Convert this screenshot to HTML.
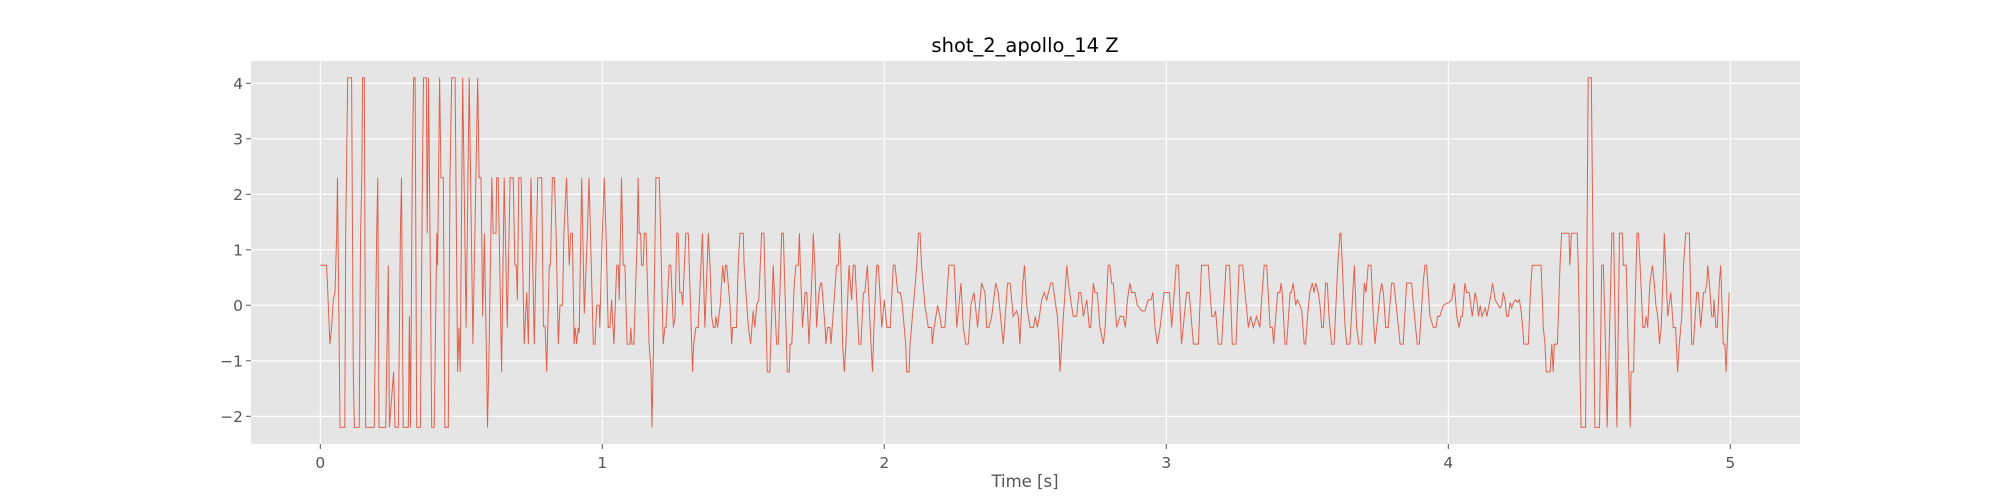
<!DOCTYPE html>
<html><head><meta charset="utf-8"><style>
html,body{margin:0;padding:0;background:#fff;}
svg{display:block;font-family:"DejaVu Sans","Liberation Sans",sans-serif;}
</style></head><body>
<svg id="chart" width="2000" height="500" viewBox="0 0 2000 500" xmlns="http://www.w3.org/2000/svg">
<rect x="0" y="0" width="2000" height="500" fill="#fff"/>
<rect x="251" y="61" width="1549" height="383" fill="#e5e5e5"/>
<g id="grid"></g>
<g id="series"></g>
<g id="ticks"></g>
<text x="1025" y="52" text-anchor="middle" font-size="19.5" fill="#000">shot_2_apollo_14 Z</text>
<text x="1025" y="487" text-anchor="middle" font-size="16.5" fill="#555">Time [s]</text>
</svg>
<script>
const xTicks=[0,1,2,3,4,5];
const yTicks=[-2,-1,0,1,2,3,4];
const yTickLabels=["\u22122","\u22121","0","1","2","3","4"];
const times=[0,.022,.025,.034,.040,.046,.052,.058,.061,.070,.087,.090,.097,.111,.117,.121,.138,.143,.147,.150,.156,.161,.191,.200,.204,.208,.232,.241,.245,.260,.265,.277,.284,.288,.294,.312,.316,.320,.326,.331,.336,.342,.355,.362,.366,.376,.379,.384,.395,.404,.413,.416,.423,.428,.436,.442,.454,.460,.466,.478,.487,.492,.496,.505,.517,.528,.541,.558,.563,.570,.576,.582,.590,.593,.597,.608,.613,.623,.625,.631,.643,.652,.663,.673,.684,.690,.695,.699,.704,.712,.723,.732,.738,.747,.759,.771,.785,.791,.797,.803,.812,.816,.823,.830,
.836,.844,.850,.859,.864,.873,.879,.883,.888,.894,.900,.904,.909,.915,.918,.927,.936,.947,.953,.968,.974,.980,.989,.991,1.000,1.007,1.013,1.021,1.027,1.033,1.041,1.051,1.057,1.060,1.068,1.074,1.080,1.088,1.098,1.101,1.105,1.112,1.124,1.127,1.131,1.136,1.139,1.145,1.149,1.155,1.166,1.173,1.176,1.180,1.190,1.202,1.216,1.222,1.226,1.234,1.237,1.243,1.252,1.258,1.264,1.269,1.275,1.281,1.285,1.291,1.296,1.305,1.317,1.320,1.324,1.332,1.340,1.355,1.364,1.376,1.382,1.388,1.394,1.400,1.403,1.409,1.418,1.427,1.433,1.437,1.441,1.453,1.459,1.462,1.476,1.482,1.488,1.500,1.503,1.518,1.526,1.535,1.541,1.547,1.555,1.565,1.573,1.585,1.594,1.606,1.618,1.624,1.636,1.642,1.656,1.663,
1.666,1.672,1.681,1.687,1.695,1.699,1.702,1.710,1.719,1.725,1.733,1.745,1.748,1.754,1.760,1.768,1.774,1.778,1.790,1.793,1.799,1.807,1.811,1.831,1.837,1.841,1.846,1.852,1.858,1.864,1.875,1.884,1.890,1.896,1.910,1.917,1.926,1.931,1.940,1.953,1.958,1.963,1.973,1.979,1.991,2.000,2.009,2.021,2.032,2.038,2.048,2.056,2.062,2.076,2.079,2.088,2.091,2.107,2.115,2.121,2.127,2.132,2.144,2.156,2.168,2.170,2.177,2.189,2.197,2.203,2.215,2.229,2.248,2.257,2.272,2.280,2.289,2.298,2.307,2.318,2.331,2.345,2.357,2.363,2.371,2.381,2.395,2.404,2.416,2.422,2.437,2.446,2.457,2.469,2.475,2.481,2.491,2.497,
2.505,2.517,2.529,2.535,2.543,2.550,2.558,2.567,2.576,2.582,2.590,2.597,2.605,2.614,2.620,2.623,2.629,2.635,2.647,2.653,2.661,2.670,2.682,2.690,2.697,2.706,2.718,2.727,2.732,2.741,2.747,2.755,2.765,2.777,2.783,2.794,2.800,2.806,2.812,2.824,2.836,2.847,2.855,2.862,2.871,2.877,2.889,2.897,2.913,2.924,2.936,2.946,2.952,2.960,2.968,2.978,2.992,3.011,3.019,3.035,3.043,3.054,3.060,3.072,3.081,3.096,3.114,3.125,3.149,3.161,3.169,3.175,3.184,3.196,3.212,3.224,3.234,3.247,3.258,3.271,3.279,3.291,3.299,3.309,3.320,3.332,
3.338,3.347,3.356,3.368,3.376,3.381,3.385,3.395,3.403,3.407,3.411,3.421,3.427,3.439,3.444,3.450,3.459,3.465,3.474,3.480,3.489,3.494,3.501,3.509,3.518,3.524,3.530,3.539,3.545,3.551,3.557,3.565,3.571,3.577,3.586,3.595,3.608,3.616,3.619,3.624,3.634,3.640,3.651,3.660,3.667,3.675,3.683,3.693,3.702,3.708,3.716,3.726,3.734,3.740,3.746,3.758,3.764,3.770,3.778,3.787,3.799,3.807,3.819,3.829,3.840,3.852,3.870,3.880,3.890,3.897,3.911,3.917,3.923,3.935,3.947,3.956,3.962,3.970,3.982,4.002,4.012,4.021,4.030,4.038,4.045,4.050,4.059,4.065,4.074,4.085,4.095,4.101,4.107,4.113,4.119,4.131,4.137,4.148,4.157,4.166,
4.183,4.189,4.195,4.201,4.207,4.213,4.219,4.225,4.231,4.239,4.245,4.252,4.258,4.264,4.268,4.284,4.290,4.293,4.298,4.329,4.337,4.343,4.347,4.361,4.367,4.372,4.376,4.387,4.396,4.402,4.428,4.431,4.437,4.457,4.461,4.467,4.471,4.487,4.496,4.507,4.520,4.536,4.544,4.550,4.560,4.563,4.568,4.580,4.586,4.598,4.607,4.617,4.621,4.631,4.640,4.645,4.648,4.657,4.659,4.669,4.674,4.680,4.690,4.696,4.702,4.707,4.715,4.724,4.730,4.736,4.743,4.749,4.755,4.763,4.766,4.771,4.778,4.789,4.798,4.806,4.813,4.819,4.828,4.834,4.842,4.855,4.863,4.869,4.873,4.881,4.887,4.895,4.905,4.911,4.917,4.920,4.926,4.934,4.940,4.942,4.949,4.954,4.961,4.966,4.975,4.981,4.985,4.989,4.996];
const values=[.72,.72,.4,-.7,-.4,.1,.23,1.3,2.3,-2.2,-2.2,1.3,4.1,4.1,-1.2,-2.2,-2.2,1.3,2.3,4.1,4.1,-2.2,-2.2,1.3,2.3,-2.2,-2.2,.72,-2.2,-1.2,-2.2,-2.2,1.3,2.3,-2.2,-2.2,-.2,-2.2,2.3,4.1,4.1,-2.2,-2.2,2.3,4.1,4.1,1.3,4.1,-2.2,-2.2,1.3,.72,4.1,2.3,2.3,-2.2,-2.2,2.3,4.1,4.1,-1.2,-.4,-1.2,4.1,-.4,4.1,-.7,4.1,2.3,2.3,-.2,1.3,-1.2,-2.2,-1.2,2.3,1.3,1.3,2.3,2.3,-1.2,2.3,-.4,2.3,2.3,.72,.72,.1,2.3,2.3,-.7,.23,-.7,2.3,-.7,2.3,2.3,-.38,-.38,-1.2,.72,.72,2.3,2.3,
1.3,-.7,0,0,1.3,2.3,1.3,.72,1.3,1.3,-.7,-.4,-.7,-.4,-.5,2.3,-.15,1.3,2.3,-.7,-.7,0,0,-.4,1.3,2.3,1.3,-.4,-.4,.1,-.7,.72,.72,.1,2.3,.72,.72,-.7,-.7,-.4,-.7,-.7,1.3,2.3,1.3,1.3,.72,.72,1.3,1.3,-.7,-1.2,-2.2,-1.2,2.3,2.3,-.7,-.4,-.4,.4,.72,.72,-.4,-.2,1.3,1.3,.23,.23,0,.72,1.3,1.3,-.7,-1.2,-.7,-.4,-.4,1.3,-.4,1.3,.72,-.2,-.4,-.4,-.2,-.4,0,.72,.4,.72,.72,0,-.7,-.4,-.4,.72,1.3,1.3,.72,-.4,-.7,-.1,-.4,0,.1,1.3,1.3,-1.2,-1.2,.72,-.7,-.7,1.3,1.3,-1.2,-1.2,
-.7,-.7,.4,.72,.72,1.3,.72,-.4,.23,.23,-.7,.72,1.3,.72,-.4,.23,.4,.4,-.4,-.7,-.4,-.4,-.7,.72,.72,1.3,.72,-.7,-1.2,-.7,.72,.1,.72,.72,-.7,-.7,.23,.23,.72,-.7,-1.2,-.4,.72,.72,-.4,.1,-.4,-.4,.72,.72,.23,.23,.1,-.7,-1.2,-1.2,-.7,.23,.72,1.3,1.3,.72,0,-.4,-.4,-.7,-.4,0,-.2,-.4,-.4,.72,.72,-.4,.4,-.4,-.7,-.7,0,.23,-.4,.4,.23,-.4,-.4,-.2,.4,.23,-.4,-.7,.4,.4,-.2,-.1,-.2,-.7,.4,.72,
0,-.4,-.4,-.2,-.4,-.2,.1,.23,.1,.23,.4,.4,.1,-.2,-.7,-1.2,-.7,-.2,.72,.4,.1,-.2,-.2,.23,.23,-.2,.1,-.4,-.4,.4,.23,.23,-.4,-.7,-.4,.72,.72,.4,.4,-.4,-.2,-.2,-.4,.1,.4,.23,.23,0,-.1,-.1,.1,.1,.23,-.4,-.7,-.4,.23,.23,-.4,.72,.72,-.7,-.4,.23,.23,-.7,-.7,.72,.72,-.2,-.2,-.1,-.7,-.7,.72,.72,-.7,-.7,.72,.72,.23,-.4,-.2,-.4,-.2,-.4,
.1,.72,.72,-.4,-.4,-.7,-.4,.23,.23,.4,.23,-.7,-.7,.23,.23,.4,0,.1,0,-.1,-.7,-.7,-.2,.23,.4,.23,.4,.23,0,-.4,-.4,.4,.4,-.2,-.7,-.7,.72,1.3,1.3,.72,-.4,-.7,-.7,.1,.72,-.4,-.7,-.7,.4,.23,.72,.72,-.2,-.7,-.4,.23,.4,.23,-.4,-.4,.4,.4,-.2,-.7,-.7,.4,.4,-.2,-.7,-.7,.4,.72,.72,-.2,-.4,-.4,-.2,-.2,0,.05,.1,.4,-.2,-.4,-.2,-.2,.4,.23,.23,-.2,.23,.1,-.2,0,-.2,-.05,-.2,.1,.4,.1,
-.05,0,.23,.1,-.2,-.2,.05,-.05,.05,.1,.05,.1,-.1,-.4,-.7,-.7,.1,.4,.72,.72,-.4,-.7,-1.2,-1.2,-.7,-1.2,-.7,-.7,.72,1.3,1.3,.72,1.3,1.3,.72,-1.2,-2.2,-2.2,4.1,4.1,-2.2,-2.2,.72,.72,-1.2,-2.2,-1.2,1.3,1.3,-2.2,1.3,1.3,.72,.72,-1.2,-2.2,-1.2,-1.2,-.7,1.3,1.3,.72,-.4,-.4,-.2,-.4,.4,.72,.4,0,-.2,-.7,-.4,.72,1.3,.72,-.2,.23,-.4,-.4,-1.2,-.7,-.2,.72,1.3,1.3,-.7,-.7,-.4,.23,.23,-.4,.23,.23,.4,.72,.4,-.2,-.2,.1,-.4,-.4,.4,.72,-.7,-.7,-1.2,-.7,.23];
const NS="http://www.w3.org/2000/svg";
const xScale=t=>320.3+t*282;
const yScale=v=>305.3-v*55.5;
const grid=document.getElementById('grid'),ticks=document.getElementById('ticks'),series=document.getElementById('series');
xTicks.forEach(t=>{
  const l=document.createElementNS(NS,'line');
  
  
  l.setAttribute('x1',xScale(t));l.setAttribute('x2',xScale(t));l.setAttribute('y1',61);l.setAttribute('y2',444);
  l.setAttribute('stroke','#fff');l.setAttribute('stroke-width','1.1');grid.appendChild(l);
  const k=document.createElementNS(NS,'line');
  
  
  k.setAttribute('x1',xScale(t));k.setAttribute('x2',xScale(t));k.setAttribute('y1',444);k.setAttribute('y2',449);
  k.setAttribute('stroke','#555');ticks.appendChild(k);
  const tx=document.createElementNS(NS,'text');
  
  
  tx.setAttribute('x',xScale(t));tx.setAttribute('y',468);tx.setAttribute('text-anchor','middle');
  tx.setAttribute('font-size','15.5');tx.setAttribute('fill','#555');tx.textContent=String(t);ticks.appendChild(tx);
});
yTicks.forEach((v,i)=>{
  const l=document.createElementNS(NS,'line');
  
  
  l.setAttribute('x1',251);l.setAttribute('x2',1800);l.setAttribute('y1',yScale(v));l.setAttribute('y2',yScale(v));
  l.setAttribute('stroke','#fff');l.setAttribute('stroke-width','1.1');grid.appendChild(l);
  const k=document.createElementNS(NS,'line');
  
  
  k.setAttribute('x1',246);k.setAttribute('x2',251);k.setAttribute('y1',yScale(v));k.setAttribute('y2',yScale(v));
  k.setAttribute('stroke','#555');ticks.appendChild(k);
  const tx=document.createElementNS(NS,'text');
  
  
  tx.setAttribute('x',243);tx.setAttribute('y',yScale(v)+5.5);tx.setAttribute('text-anchor','end');
  tx.setAttribute('font-size','15.5');tx.setAttribute('fill','#555');tx.textContent=yTickLabels[i];ticks.appendChild(tx);
});
let d='';
for(let i=0;i<times.length&&i<values.length;i++){d+=(i?'L':'M')+xScale(times[i]).toFixed(1)+' '+yScale(values[i]).toFixed(1);}
const p=document.createElementNS(NS,'path');


p.setAttribute('d',d);p.setAttribute('fill','none');p.setAttribute('stroke','#E24A33');
p.setAttribute('stroke-width','1');p.setAttribute('stroke-opacity','0.85');p.setAttribute('stroke-linejoin','miter');
series.appendChild(p);
</script>
</body></html>
